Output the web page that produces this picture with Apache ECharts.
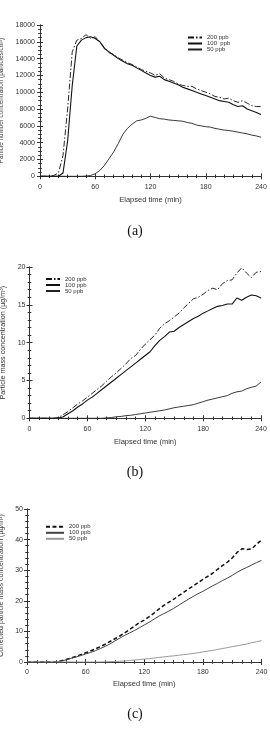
<!DOCTYPE html>
<html><head><meta charset="utf-8">
<script src="https://cdn.jsdelivr.net/npm/echarts@6/dist/echarts.min.js"></script>
<style>html,body{margin:0;padding:0;background:#fff}#c{width:270px;height:733px}</style>
</head><body><div id="c"></div><script>
// Elapsed time (min)
const minutes = [0,5,10,15,20,25,30,35,40,45,50,55,60,65,70,75,80,85,90,95,100,105,110,115,120,125,130,135,140,145,150,155,160,165,170,175,180,185,190,195,200,205,210,215,220,225,230,235,240];
const xTickLabels = [0,60,120,180,240];

// (a) particle number concentration (particles/cm3)
const number200 = [0,0,0,100,400,2500,8000,14800,16200,16400,16850,16400,16600,16000,15300,14700,14500,14100,13800,13500,13300,13000,12700,12500,12300,12000,12200,11700,11500,11300,11000,10800,10700,10700,10400,10200,10000,9800,9500,9400,9200,9300,9000,8800,9000,8700,8400,8300,8300];
const number100 = [0,0,0,0,0,400,4200,10800,15500,16200,16500,16600,16400,16000,15200,14800,14400,14000,13700,13400,13200,12900,12600,12300,12000,11800,11900,11500,11300,11100,10900,10600,10400,10200,10000,9800,9600,9400,9200,9000,8900,8800,8500,8300,8400,8000,7800,7600,7350];
const number50 = [0,0,0,0,0,0,0,0,0,0,30,100,300,700,1300,2100,2900,3900,5000,5700,6200,6600,6700,6900,7150,7000,6850,6800,6700,6650,6600,6550,6400,6300,6100,6000,5900,5850,5700,5600,5500,5450,5350,5250,5150,5050,4900,4800,4650];

// (b) particle mass concentration (ug/m3)
const mass200 = [0,0,0,0,0,0,0.1,0.5,0.9,1.4,1.9,2.3,2.8,3.3,3.8,4.3,4.9,5.5,6.0,6.6,7.2,7.9,8.3,9.1,9.8,10.4,11.0,11.9,12.5,12.9,13.4,13.9,14.6,15.2,15.8,16.0,16.4,16.9,17.2,17.0,17.8,18.2,18.3,19.2,19.9,19.2,18.6,19.3,19.4];
const mass100 = [0,0,0,0,0,0,0,0.2,0.6,1.0,1.5,1.9,2.4,2.8,3.3,3.8,4.3,4.8,5.3,5.8,6.3,6.8,7.3,7.8,8.3,8.8,9.6,10.3,10.8,11.4,11.5,12.0,12.4,12.8,13.2,13.5,13.9,14.2,14.5,14.8,14.9,15.1,15.1,15.9,15.6,16.0,16.3,16.2,15.9];
const mass50 = [0,0,0,0,0,0,0,0,0,0,0,0,0,0,0,0,0.05,0.1,0.2,0.25,0.35,0.4,0.5,0.6,0.7,0.8,0.9,1.0,1.1,1.25,1.4,1.5,1.6,1.7,1.8,2.0,2.2,2.4,2.55,2.7,2.85,3.0,3.3,3.5,3.6,3.9,4.1,4.25,4.8];

// (c) corrected particle mass concentration (ug/m3)
const corr200 = [0,0,0,0,0,0,0.1,0.4,0.8,1.3,1.8,2.4,3.0,3.6,4.3,5.0,5.8,6.7,7.6,8.5,9.5,10.6,11.7,12.9,13.7,14.8,16.0,17.3,18.5,19.5,20.5,21.6,22.7,23.8,24.8,25.9,27.0,28.0,29.0,30.3,31.5,32.6,34.0,35.8,37.0,36.8,37.0,38.5,39.9];
const corr100 = [0,0,0,0,0,0,0,0.3,0.7,1.2,1.6,2.1,2.6,3.1,3.7,4.4,5.1,5.9,6.9,7.8,8.7,9.5,10.3,11.2,12.1,13.0,14.0,15.0,15.8,16.6,17.5,18.5,19.5,20.5,21.4,22.3,23.1,24.0,24.9,25.7,26.6,27.4,28.3,29.3,30.2,30.9,31.7,32.5,33.2];
const corr50 = [0,0,0,0,0,0,0,0,0,0,0,0,0,0,0,0,0.05,0.1,0.15,0.25,0.35,0.5,0.65,0.8,0.95,1.1,1.3,1.5,1.65,1.85,2.0,2.2,2.4,2.55,2.8,3.0,3.3,3.55,3.8,4.1,4.4,4.7,5.0,5.3,5.6,5.9,6.3,6.6,7.0];

const panelLabels = ['(a)','(b)','(c)'];
const legendLabelsA = ['200 ppb','100  ppb','50 ppb'];
const legendLabels = ['200 ppb','100 ppb','50 ppb'];

const FONT = "'Liberation Sans', Arial, sans-serif";
const pair = arr => minutes.map((t,i)=>[t,arr[i]]);

const panels = [
  {grid:{left:40,top:25,width:221,height:151.3}, yMax:18000, yInt:2000, yMinor:4,
   yName:'Particle number concentration (particles/cm³)', yNameSize:6.3, yNameGap:30.5, yLabMargin:5,
   xNameGap:20, xLabMargin:7, titleTop:219,
   legend:{left:187,top:34.5,itemWidth:14,itemHeight:7.5,gap:0},
   labels:legendLabelsA,
   series:[
     {d:number200, style:{color:'#111',width:0.9,type:[6,2,1.5,2]}},
     {d:number100, style:{color:'#111',width:1.1,type:'solid'}},
     {d:number50, style:{color:'#222',width:0.9,type:'solid'}}]},
  {grid:{left:29.5,top:267,width:231.5,height:151.3}, yMax:20, yInt:5, yMinor:5,
   yName:'Particle mass concentration (µg/m³)', yNameSize:7.2, yNameGap:19, yLabMargin:4,
   xNameGap:20, xLabMargin:7, titleTop:460,
   legend:{left:45,top:276,itemWidth:14,itemHeight:7.5,gap:0},
   labels:legendLabels,
   series:[
     {d:mass200, style:{color:'#111',width:0.9,type:[6,2,1.5,2]}},
     {d:mass100, style:{color:'#111',width:1.1,type:'solid'}},
     {d:mass50, style:{color:'#222',width:0.9,type:'solid'}}]},
  {grid:{left:27,top:509,width:234.5,height:153}, yMax:50, yInt:10, yMinor:5,
   yName:'Corrected particle mass concentration (µg/m³)', yNameSize:7, yNameGap:17, yLabMargin:4,
   xNameGap:17.5, xLabMargin:6.5, titleTop:702,
   legend:{left:45,top:523.8,itemWidth:18,itemHeight:7,gap:0},
   labels:legendLabels,
   series:[
     {d:corr200, style:{color:'#111',width:1.5,type:[4,2.5]}},
     {d:corr100, style:{color:'#444',width:1,type:'solid'}},
     {d:corr50, style:{color:'#999',width:1,type:'solid'}}]}
];

const option = {animation:false, backgroundColor:'#fff', grid:[], xAxis:[], yAxis:[], series:[], legend:[], title:[]};
const axisLine = {show:true, lineStyle:{color:'#333',width:1}};
panels.forEach((p,i)=>{
  option.grid.push(Object.assign({containLabel:false, outerBoundsMode:'none'}, p.grid));
  option.title.push({text:panelLabels[i], left:'center', top:p.titleTop,
    textStyle:{fontFamily:"'Liberation Serif','Times New Roman',serif", fontSize:14, fontWeight:'normal', color:'#111'}});
  const xBase = {type:'value', gridIndex:i, min:0, max:240, interval:60, splitLine:{show:false},
    axisLine:axisLine, axisTick:{show:true,inside:true,length:3,lineStyle:{color:'#333'}},
    minorTick:{show:true,splitNumber:6,length:1.8,lineStyle:{color:'#333'}}};
  option.xAxis.push(Object.assign({}, xBase, {position:'bottom',
    name:'Elapsed time (min)', nameLocation:'middle', nameGap:p.xNameGap,
    nameTextStyle:{fontFamily:FONT,fontSize:7.5,color:'#333'},
    axisLabel:{show:true,margin:p.xLabMargin,fontFamily:FONT,fontSize:7,color:'#333',
      formatter:v=>String(v)}}));
  option.xAxis.push(Object.assign({}, xBase, {position:'top', axisLabel:{show:false}}));
  const yBase = {type:'value', gridIndex:i, min:0, max:p.yMax, interval:p.yInt, splitLine:{show:false},
    axisLine:axisLine, axisTick:{show:true,inside:true,length:3,lineStyle:{color:'#333'}},
    minorTick:{show:true,splitNumber:p.yMinor,length:1.8,lineStyle:{color:'#333'}}};
  option.yAxis.push(Object.assign({}, yBase, {position:'left',
    name:p.yName, nameLocation:'middle', nameGap:p.yNameGap,
    nameTextStyle:{fontFamily:FONT,fontSize:p.yNameSize,color:'#333'},
    axisLabel:{show:true,margin:p.yLabMargin,fontFamily:FONT,fontSize:7,color:'#333',
      formatter:v=>String(v)}}));
  option.yAxis.push(Object.assign({}, yBase, {position:'right', axisLabel:{show:false}}));
  const names = [];
  p.series.forEach((s,k)=>{
    const nm = 'p'+i+'|'+p.labels[k];
    names.push(nm);
    option.series.push({type:'line', name:nm, xAxisIndex:2*i, yAxisIndex:2*i,
      data:pair(s.d), showSymbol:false, symbol:'none', smooth:false,
      lineStyle:s.style, itemStyle:{color:s.style.color}, emphasis:{disabled:true}});
  });
  option.legend.push({data:names, orient:'vertical', left:p.legend.left, top:p.legend.top,
    itemWidth:p.legend.itemWidth, itemHeight:p.legend.itemHeight, itemGap:p.legend.gap,
    padding:0, selectedMode:false,
    itemStyle:{color:'transparent',borderWidth:0,opacity:0},
    formatter:n=>n.split('|')[1],
    textStyle:{fontFamily:FONT,fontSize:6,color:'#333',padding:[0,0,0,0]}});
});
const chart = echarts.init(document.getElementById('c'), null, {renderer:'canvas'});
chart.setOption(option);
</script></body></html>
